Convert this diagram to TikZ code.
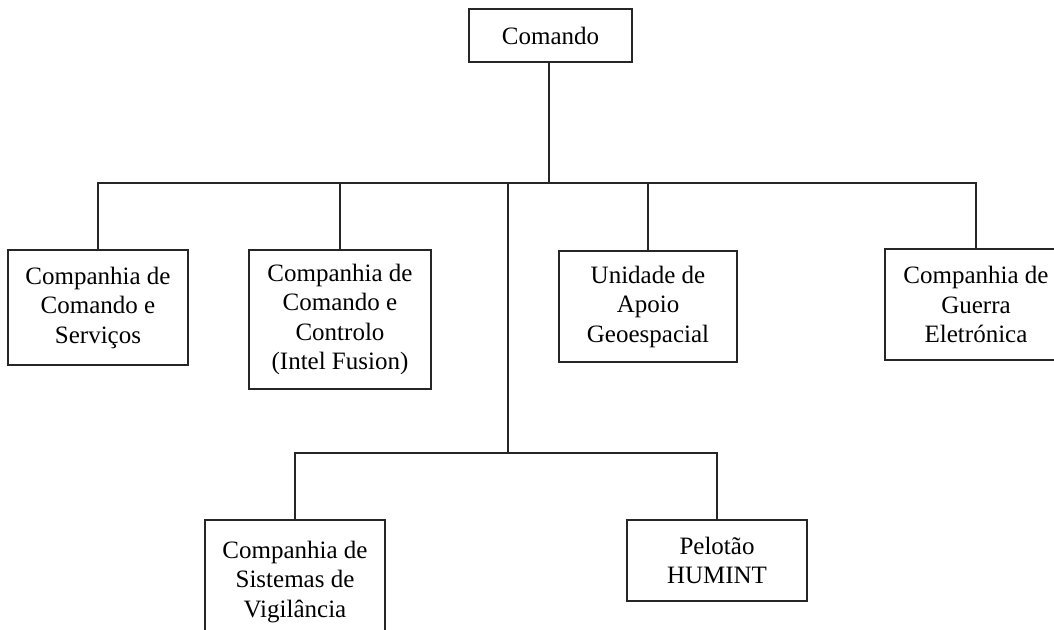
\documentclass[tikz,border=0pt]{standalone}
\usepackage{fontspec}
\setmainfont{Liberation Serif}
\usepackage{xcolor}
\definecolor{linegray}{HTML}{262626}

\begin{document}
\begin{tikzpicture}[x=1pt, y=-1pt]
                % Stile per le caselle
                \tikzset{
                    unit box/.style={
                        draw=linegray,
                        line width=1.2pt,
                        align=center,
                        inner sep=0pt,
                        font=\fontsize{25}{29.5}\selectfont
                    },
                    link/.style={
                        draw=linegray,
                        line width=1.2pt
                    }
                }

                % Margini
                \useasboundingbox (0,0) rectangle (1054,629);
                \clip (0,0) rectangle (1054,629);

                % Caselle
                \node[unit box, minimum width=163pt, minimum height=53pt] (cmd) at (550.5, 35.5) {Comando};

                \node[unit box, minimum width=180pt, minimum height=115pt] (ccs) at (98, 307.5) {Companhia de\\Comando e\\Serviços};
                \node[unit box, minimum width=182pt, minimum height=139pt] (ccc) at (340, 319.5) {Companhia de\\Comando e\\Controlo\\(Intel Fusion)};
                \node[unit box, minimum width=178pt, minimum height=111pt] (uag) at (648, 306.5) {Unidade de\\Apoio\\Geoespacial};
                \node[unit box, minimum width=182pt, minimum height=111pt] (cge) at (976, 304.5) {Companhia de\\Guerra\\Eletrónica};

                \node[unit box, minimum width=180pt, minimum height=124pt] (csv) at (295, 582) {Companhia de\\Sistemas de\\Vigilância};
                \node[unit box, minimum width=180pt, minimum height=81pt] (phum) at (717, 560.5) {Pelotão\\HUMINT};

                % Collegamenti
                \coordinate (bus) at (549, 183);
                \coordinate (lbus) at (508, 453);

                \draw[link] (cmd.south -| bus) -- (bus);
                \draw[link] (ccs.north) |- (bus) -| (cge.north);
                \draw[link] (ccc.north) -- (ccc.north |- bus);
                \draw[link] (uag.north) -- (uag.north |- bus);
                \draw[link] (lbus) -- (lbus |- bus);
                \draw[link] (csv.north) |- (lbus) -| (phum.north);
            \end{tikzpicture}
\end{document}
